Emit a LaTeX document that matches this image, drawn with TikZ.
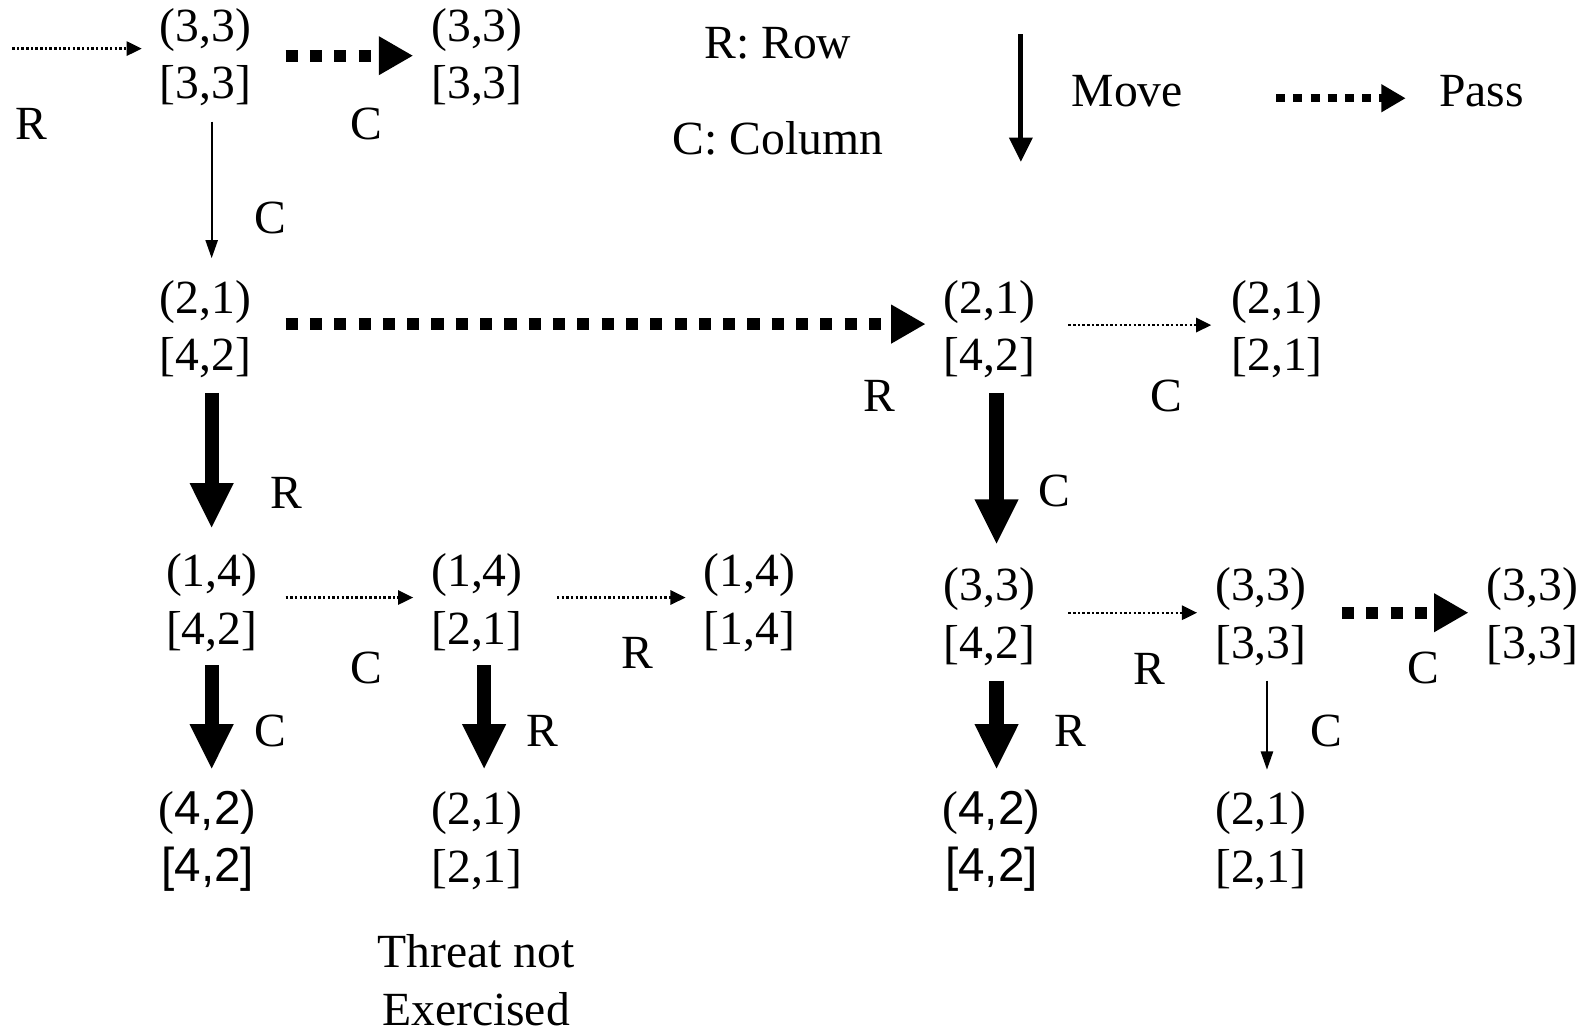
\documentclass[tikz,border=0pt]{standalone}
\usepackage{fontspec}
\setmainfont{Liberation Serif}
\newfontfamily\arialfont{Liberation Sans}
\usetikzlibrary{arrows.meta}

% a state: (position) on the first line, [target] on the second
\newcommand\statepair[2]{(#1)\\{}[#2]}
\newcommand\sanspair[2]{(\arialfont #1)\\{}{\arialfont[#2]}}

\tikzset{
  state/.style={align=center, inner sep=0pt,
    font=\fontsize{47}{57}\selectfont},
  lbl/.style={inner sep=0pt, font=\fontsize{47}{57}\selectfont},
  trace/.style={line width=2.4pt, dash pattern=on 2.4pt off 2.2pt,
    -{Triangle[length=15pt,width=14pt]}},
  passarrow/.style={line width=12pt, dash pattern=on 12pt off 12pt,
    -{Triangle[length=34pt,width=36pt]}},
  legendpass/.style={line width=8pt, dash pattern=on 9pt off 8pt,
    -{Triangle[length=24pt,width=26pt]}},
  thinmove/.style={line width=2pt, -{Triangle[length=18pt,width=12pt]}},
  legendmove/.style={line width=5pt, -{Triangle[length=24pt,width=22pt]}},
  bigmove/.style={line width=14pt, -{Triangle[length=45pt,width=40pt]}},
}

\begin{document}
\begin{tikzpicture}[x=1pt, y=-1pt]
\useasboundingbox (0,0) rectangle (1568,1020);

% states
\node[state] (A) at (203,56.5) {\statepair{3,3}{3,3}};
\node[state] (B) at (471,56.5) {\statepair{3,3}{3,3}};
\node[state] (C) at (203,325) {\statepair{2,1}{4,2}};
\node[state] (D) at (977,325) {\statepair{2,1}{4,2}};
\node[state] (E) at (1261,325) {\statepair{2,1}{2,1}};
\node[state] (F) at (209,595) {\statepair{1,4}{4,2}};
\node[state] (G) at (471,595) {\statepair{1,4}{2,1}};
\node[state] (H) at (740,595) {\statepair{1,4}{1,4}};
\node[state] (I) at (977,609) {\statepair{3,3}{4,2}};
\node[state] (J) at (1245,609) {\statepair{3,3}{3,3}};
\node[state] (K) at (1513,609) {\statepair{3,3}{3,3}};
\node[state] (L) at (205,830) {\sanspair{4,2}{4,2}};
\node[state] (M) at (471,830) {\statepair{2,1}{2,1}};
\node[state] (N) at (979,830) {\sanspair{4,2}{4,2}};
\node[state] (O) at (1245,830) {\statepair{2,1}{2,1}};
\node[state] (note) at (470,968) {Threat not\\Exercised};

% legend
\node[lbl] (rowkey) at (768,43) {R: Row};
\node[lbl] (colkey) at (768,137) {C: Column};
\node[lbl] (movekey) at (1113,90) {Move};
\node[lbl] (passkey) at (1463,90) {Pass};
\draw[legendmove] ([shift={(-105,-56)}]movekey.center) -- ([shift={(-105,70)}]movekey.center);
\draw[legendpass] ([shift={(-203,7)}]passkey.center) -- ([shift={(-75,7)}]passkey.center);

% entry
\coordinate (start) at (12,48);
\draw[trace] (start) -- ([shift={(-63,-8.5)}]A.center);
\node[lbl] (l0) at (31,122) {R};

% transitions
\draw[passarrow] ([shift={(79,-1.5)}]A.center) -- ([shift={(-63,-1.5)}]B.center);
\node[lbl] (l1) at (362,122) {C};

\draw[thinmove] ([shift={(6,63.5)}]A.center) -- ([shift={(6,-70)}]C.center);
\node[lbl] (l2) at (267,215) {C};

\draw[passarrow] ([shift={(79,-5)}]C.center) -- ([shift={(-63,-5)}]D.center);
\node[lbl] (l3) at (868,391) {R};

\draw[bigmove] ([shift={(6,63)}]C.center) -- ([shift={(0,-73)}]F.center);
\node[lbl] (l4) at (283,487) {R};

\draw[trace] ([shift={(78,-4)}]D.center) -- ([shift={(-65,-4)}]E.center);
\node[lbl] (l5) at (1152,391) {C};

\draw[bigmove] ([shift={(7,63)}]D.center) -- ([shift={(7,-71)}]I.center);
\node[lbl] (l6) at (1041,485) {C};

\draw[trace] ([shift={(73,-5)}]F.center) -- ([shift={(-63,-5)}]G.center);
\node[lbl] (l7) at (362,660) {C};

\draw[trace] ([shift={(79,-5)}]G.center) -- ([shift={(-63,-5)}]H.center);
\node[lbl] (l8) at (629,645) {R};

\draw[bigmove] ([shift={(0,62)}]F.center) -- ([shift={(4,-70)}]L.center);
\node[lbl] (l9) at (267,722) {C};

\draw[bigmove] ([shift={(7,62)}]G.center) -- ([shift={(7,-70)}]M.center);
\node[lbl] (l10) at (536,722) {R};

\draw[trace] ([shift={(78,-4)}]I.center) -- ([shift={(-63,-4)}]J.center);
\node[lbl] (l11) at (1135,660) {R};

\draw[passarrow] ([shift={(80,-4)}]J.center) -- ([shift={(-63,-4)}]K.center);
\node[lbl] (l12) at (1405,660) {C};

\draw[bigmove] ([shift={(7,63)}]I.center) -- ([shift={(5,-70)}]N.center);
\node[lbl] (l13) at (1057,722) {R};

\draw[thinmove] ([shift={(6,63)}]J.center) -- ([shift={(6,-70)}]O.center);
\node[lbl] (l14) at (1310,722) {C};
\end{tikzpicture}
\end{document}
